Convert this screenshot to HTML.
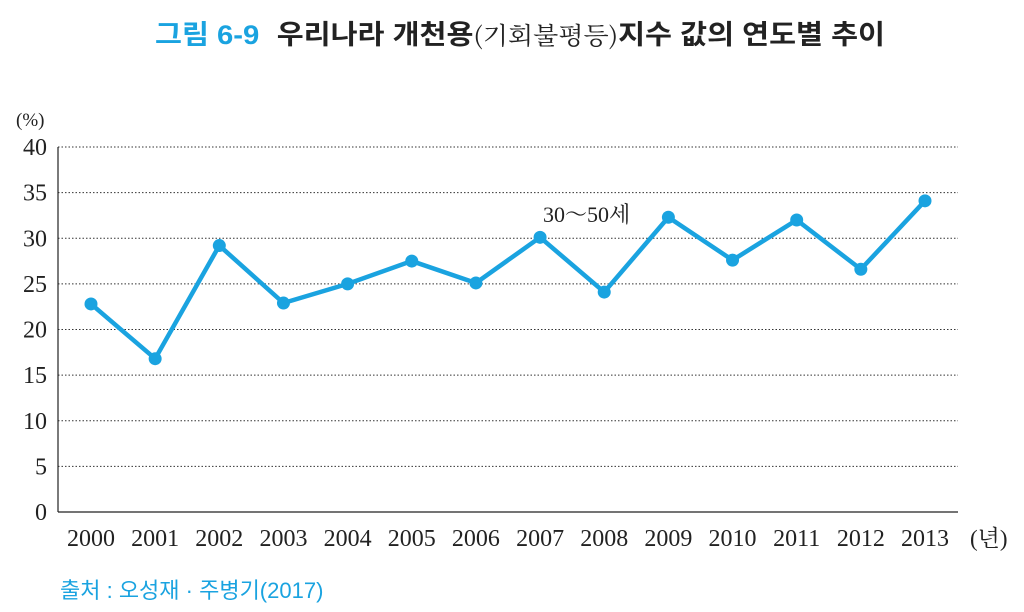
<!DOCTYPE html>
<html><head><meta charset="utf-8"><style>
body{margin:0;background:#fff;width:1024px;height:612px;overflow:hidden}
svg{display:block}
</style></head><body>
<svg width="1024" height="612">
<text x="155" y="44" font-family="Liberation Sans, Noto Sans CJK KR, sans-serif" font-size="27" font-weight="bold" textLength="730" lengthAdjust="spacingAndGlyphs"><tspan fill="#1aa3e0">그림 6-9</tspan><tspan fill="#222" dx="16">우리나라 개천용</tspan><tspan fill="#222" font-weight="normal" font-family="Noto Serif CJK SC, serif" font-size="24">(기회불평등)</tspan><tspan fill="#222">지수 값의 연도별 추이</tspan></text>
<text x="16" y="126" font-family="Liberation Serif, serif" font-size="19" fill="#222">(%)</text>
<g id="grid"></g><g id="yt"></g><g id="xt"></g><g id="series"></g>
<line x1="58" y1="147" x2="58" y2="512" stroke="#222" stroke-width="1.2"/>
<line x1="58" y1="512" x2="958" y2="512" stroke="#222" stroke-width="1.2"/>
<text x="970" y="546" font-family="Liberation Serif, Noto Serif CJK SC, serif" font-size="23" fill="#222">(년)</text>
<text x="543" y="222" font-family="Liberation Serif, Noto Serif CJK SC, serif" font-size="22" fill="#222">30～50세</text>
<text x="60" y="598" font-family="Liberation Sans, Noto Sans CJK KR, sans-serif" font-size="22" fill="#1aa3e0">출처 : 오성재 · 주병기(2017)</text>
</svg>
<script>
const years=['2000','2001','2002','2003','2004','2005','2006','2007','2008','2009','2010','2011','2012','2013'];
const values=[22.8,16.8,29.2,22.9,25.0,27.5,25.1,30.1,24.1,32.3,27.6,32.0,26.6,34.1];
const yTicks=[0,5,10,15,20,25,30,35,40];
const NS='http://www.w3.org/2000/svg';
const xs=i=>91+i*(925-91)/(years.length-1);
const ys=v=>512-v*(512-147)/40;
function mk(t,a,p){const e=document.createElementNS(NS,t);for(const k in a)e.setAttribute(k,a[k]);p.appendChild(e);return e;}
const g=document.getElementById('grid'),yt=document.getElementById('yt'),xt=document.getElementById('xt'),s=document.getElementById('series');
yTicks.forEach(v=>{
 if(v>0){const l=mk('line',{x1:58,x2:958,y1:ys(v),y2:ys(v),stroke:'#333','stroke-width':1,'stroke-dasharray':'1.5 2'},g);
 
 }
 const t=mk('text',{x:47,y:ys(v)+8,'text-anchor':'end','font-family':'Liberation Serif, serif','font-size':24,fill:'#222'},yt);
 t.textContent=v;
 
 
});
years.forEach((y,i)=>{
 const t=mk('text',{x:xs(i),y:546,'text-anchor':'middle','font-family':'Liberation Serif, serif','font-size':24,fill:'#222'},xt);
 t.textContent=y;
 
 
});
const pl=mk('polyline',{points:values.map((v,i)=>xs(i)+','+ys(v)).join(' '),fill:'none',stroke:'#1aa3e0','stroke-width':4.5,'stroke-linejoin':'miter'},s);


values.forEach((v,i)=>{
 const c=mk('circle',{cx:xs(i),cy:ys(v),r:6.5,fill:'#1aa3e0'},s);
 
 
});
</script>
</body></html>
